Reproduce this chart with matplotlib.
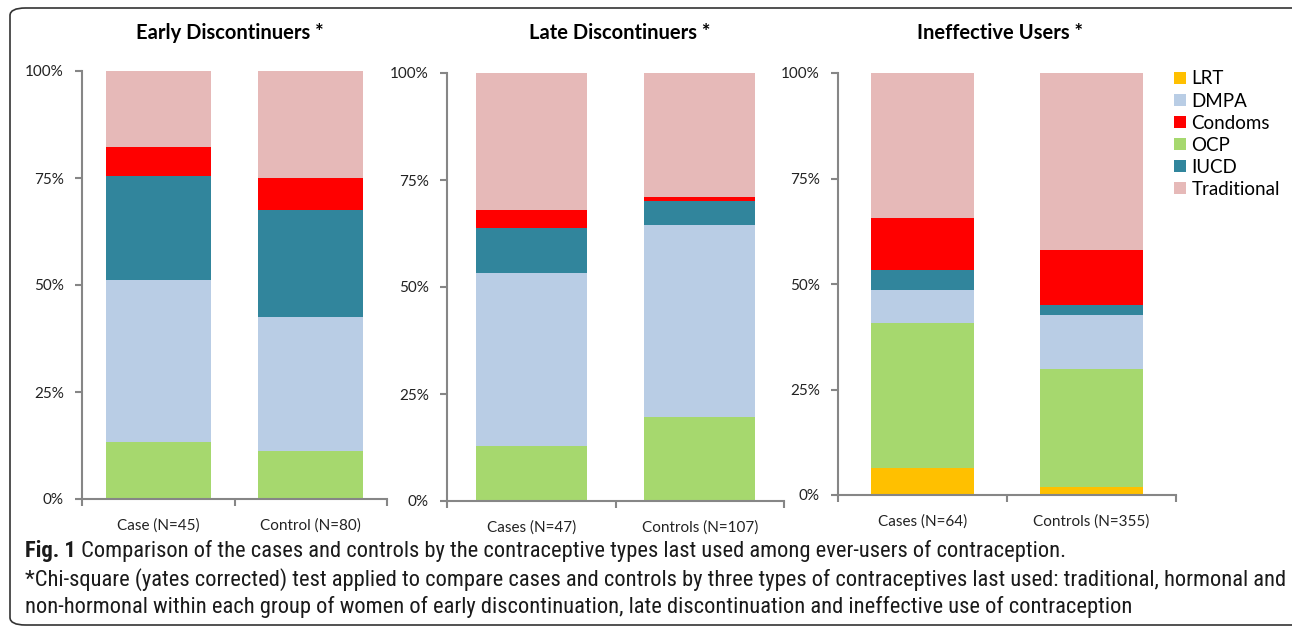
import matplotlib
matplotlib.use("Agg")
import matplotlib.pyplot as plt
from matplotlib import font_manager
from matplotlib.patches import FancyBboxPatch, Patch

# stacked shares (%), bottom to top
methods = ["LRT", "OCP", "DMPA", "IUCD", "Condoms", "Traditional"]
legend_order = ["LRT", "DMPA", "Condoms", "OCP", "IUCD", "Traditional"]
colors = {"LRT": "#FFC000", "DMPA": "#B9CDE5", "Condoms": "#FF0000",
          "OCP": "#A6D86E", "IUCD": "#31859C", "Traditional": "#E6B9B8"}

titles = ["Early Discontinuers *", "Late Discontinuers *", "Ineffective Users *"]
group_labels = [["Case (N=45)", "Control (N=80)"],
                ["Cases (N=47)", "Controls (N=107)"],
                ["Cases (N=64)", "Controls (N=355)"]]

early = {"LRT": [0, 0], "OCP": [13.3, 11.3], "DMPA": [37.8, 31.2],
         "IUCD": [24.4, 25.0], "Condoms": [6.7, 7.5], "Traditional": [17.8, 25.0]}
late = {"LRT": [0, 0], "OCP": [12.8, 19.6], "DMPA": [40.4, 44.9],
        "IUCD": [10.6, 5.6], "Condoms": [4.3, 0.9], "Traditional": [31.9, 29.0]}
ineffective = {"LRT": [6.3, 2.0], "OCP": [34.4, 27.9], "DMPA": [7.8, 12.7],
               "IUCD": [4.7, 2.5], "Condoms": [12.5, 13.0], "Traditional": [34.4, 42.0]}
panels = [early, late, ineffective]

caption_1 = " Comparison of the cases and controls by the contraceptive types last used among ever-users of contraception."
caption_2 = ("*Chi-square (yates corrected) test applied to compare cases and controls by three "
             "types of contraceptives last used: traditional, hormonal and")
caption_3 = ("non-hormonal within each group of women of early discontinuation, late "
             "discontinuation and ineffective use of contraception")

W, H = 1292, 628
fig = plt.figure(figsize=(W / 100, H / 100), dpi=100)
chart_font = ["Lato", "DejaVu Sans"]

# pick a narrow face for the caption if one is around
installed = {f.name for f in font_manager.fontManager.ttflist}
narrow = [n for n in ["Liberation Sans Narrow", "DejaVu Sans Condensed", "Roboto Condensed",
                      "Open Sans Condensed", "Noto Sans Condensed", "Roboto", "Open Sans"]
          if n in installed]
cap_font = narrow[:1] + ["DejaVu Sans"]

# axes boxes in pixels: left, right, y of 100%, y of 0%
boxes = [(82, 387, 71, 499), (447, 784, 73, 501), (838, 1176, 73, 495)]
bar_w = [0.69, 0.66, 0.61]
title_x = [230, 620, 1000]
axis_grey = "#868686"

for i, (data, (l, r, t, b)) in enumerate(zip(panels, boxes)):
    ax = fig.add_axes([l / W, 1 - b / H, (r - l) / W, (b - t) / H])
    bottom = [0, 0]
    for m in methods:
        vals = data[m]
        ax.bar([0, 1], vals, bottom=bottom, width=bar_w[i], color=colors[m],
               edgecolor="none", zorder=2)
        bottom = [bottom[k] + vals[k] for k in range(2)]
    ax.set_xlim(-0.5, 1.5)
    ax.set_ylim(0, 100)
    ax.set_yticks([0, 25, 50, 75, 100])
    ax.set_yticklabels(["0%", "25%", "50%", "75%", "100%"], family=chart_font,
                       fontsize=11, color="#222222")
    ax.set_xticks([0, 1])
    ax.set_xticklabels(group_labels[i], family=chart_font, fontsize=11, color="#222222")
    ax.set_xticks([-0.5, 0.5, 1.5], minor=True)
    ax.tick_params(axis="x", which="major", length=0, pad=14)
    ax.tick_params(axis="x", which="minor", length=5, color=axis_grey, width=1.5)
    ax.tick_params(axis="y", length=5, color=axis_grey, width=1.5, pad=8)
    for s in ["top", "right"]:
        ax.spines[s].set_visible(False)
    for s in ["left", "bottom"]:
        ax.spines[s].set_color(axis_grey)
        ax.spines[s].set_linewidth(1.5)
    fig.text(title_x[i] / W, 1 - 33 / H, titles[i], ha="center", va="center",
             fontsize=14.5, fontweight="bold", family=chart_font)

handles = [Patch(facecolor=colors[m], edgecolor="none", label=m) for m in legend_order]
fig.legend(handles=handles, loc="upper left", bbox_to_anchor=(1166 / W, 1 - 63 / H),
           frameon=False, prop={"family": chart_font, "size": 13.5},
           handlelength=0.65, handleheight=0.65, handletextpad=0.3,
           labelspacing=0.27, borderaxespad=0)

# rounded frame around chart and caption
frame = FancyBboxPatch((10 / W, 3 / H), 1300 / W, 617 / H,
                       boxstyle="round,pad=0,rounding_size=0.012",
                       transform=fig.transFigure, fill=False,
                       edgecolor="#333333", linewidth=1.2)
fig.add_artist(frame)

# caption: size fitted so the second line spans the same width as in the source
cap_size = 13
cap_color = "#1a1a1a"
line_2 = fig.text(25 / W, 1 - 580 / H, caption_2, fontsize=cap_size, family=cap_font,
                  va="center", color=cap_color)
fig.canvas.draw()
cap_size = cap_size * 1252 / line_2.get_window_extent().width
line_2.set_fontsize(cap_size)
fig_lbl = fig.text(25 / W, 1 - 551 / H, "Fig. 1", fontsize=cap_size, fontweight="bold",
                   family=cap_font, va="center", color=cap_color)
ax.annotate(caption_1, xy=(1, 0.5), xycoords=fig_lbl, va="center", fontsize=cap_size,
            family=cap_font, color=cap_color, annotation_clip=False)
fig.text(25 / W, 1 - 607 / H, caption_3, fontsize=cap_size, family=cap_font,
         va="center", color=cap_color)

fig.savefig("out.png", dpi=100)
